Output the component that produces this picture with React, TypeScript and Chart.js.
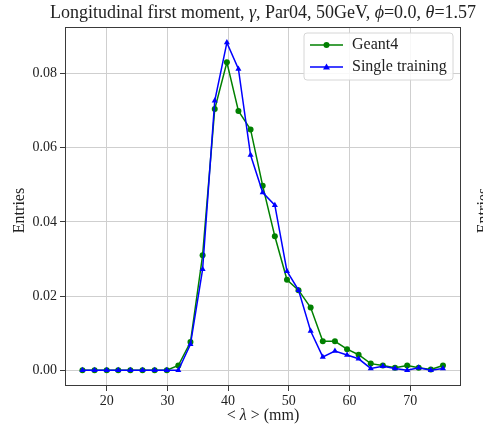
import React, { useEffect, useRef } from "react";
import { Chart, registerables } from "chart.js";

Chart.register(...registerables);

// title parts: [text, italic]
const titleParts: [string, boolean][] = [
  ["Longitudinal first moment, ", false],
  ["\u03b3", true],
  [", Par04, 50GeV, ", false],
  ["\u03d5", true],
  ["=0.0, ", false],
  ["\u03b8", true],
  ["=1.57", false],
];
const xLabelParts: [string, boolean][] = [
  ["< ", false],
  ["\u03bb", true],
  [" > (mm)", false],
];
const yLabel = "Entries";

const xValues = [16.0, 18.0, 20.0, 21.9, 23.9, 25.9, 27.9, 29.9, 31.8, 33.8, 35.8, 37.8, 39.8, 41.7, 43.7, 45.7, 47.7, 49.7, 51.6, 53.6, 55.6, 57.6, 59.6, 61.5, 63.5, 65.5, 67.5, 69.5, 71.4, 73.4, 75.4];
const geant4 = [0, 0, 0, 0, 0, 0, 0, 0, 0.0013, 0.0076, 0.031, 0.0704, 0.083, 0.0699, 0.0649, 0.0497, 0.0361, 0.0244, 0.0216, 0.0169, 0.0078, 0.0078, 0.0057, 0.0042, 0.0018, 0.0013, 0.0007, 0.0013, 0.0007, 0.0002, 0.0013];
const singleTraining = [0, 0, 0, 0, 0, 0, 0, 0, 0, 0.007, 0.0272, 0.0726, 0.0883, 0.0812, 0.058, 0.0479, 0.0445, 0.0267, 0.0216, 0.0106, 0.0036, 0.0052, 0.0041, 0.0031, 0.0005, 0.0011, 0.0005, 0, 0.0007, 0, 0.0005];
const xTicks = [20, 30, 40, 50, 60, 70];
const yTicks = [0, 0.02, 0.04, 0.06, 0.08];
const seriesNames = ["Geant4", "Single training"];

const FONT = "'Liberation Serif', 'DejaVu Serif', serif";

function drawRich(ctx: CanvasRenderingContext2D, parts: [string, boolean][], cx: number, cy: number, size: number) {
  const fonts = parts.map(([, it]) => `${it ? "italic " : ""}${size}px ${FONT}`);
  let total = 0;
  const widths = parts.map(([t], i) => {
    ctx.font = fonts[i];
    const w = ctx.measureText(t).width;
    total += w;
    return w;
  });
  let x = cx - total / 2;
  ctx.textAlign = "left";
  ctx.textBaseline = "middle";
  parts.forEach(([t], i) => {
    ctx.font = fonts[i];
    ctx.fillText(t, x, cy);
    x += widths[i];
  });
}

const decorPlugin = {
  id: "decor",
  beforeDatasetsDraw(chart: any) {
    const { ctx, chartArea: a } = chart;
    ctx.save();
    ctx.strokeStyle = "#3a3a3a";
    ctx.lineWidth = 1;
    ctx.strokeRect(a.left + 0.5, a.top + 0.5, a.right - a.left - 1, a.bottom - a.top - 1);
    ctx.restore();
  },
  afterDraw(chart: any) {
    const { ctx, chartArea: a } = chart;
    ctx.save();
    ctx.fillStyle = "#222";
    drawRich(ctx, titleParts, (a.left + a.right) / 2, 13, 18);
    drawRich(ctx, xLabelParts, (a.left + a.right) / 2, 416, 16);
    ctx.textAlign = "center";
    ctx.textBaseline = "middle";
    ctx.font = `16px ${FONT}`;
    ctx.save();
    ctx.translate(20, (a.top + a.bottom) / 2 + 4);
    ctx.rotate(-Math.PI / 2);
    ctx.fillText(yLabel, 0, 0);
    ctx.restore();
    ctx.save();
    ctx.translate(484, (a.top + a.bottom) / 2 + 4);
    ctx.rotate(-Math.PI / 2);
    ctx.fillText(yLabel, 0, 0);
    ctx.restore();

    // legend
    const bx = 304, by = 33, bw = 149, bh = 47;
    ctx.beginPath();
    const r = 3;
    ctx.moveTo(bx + r, by);
    ctx.lineTo(bx + bw - r, by);
    ctx.quadraticCurveTo(bx + bw, by, bx + bw, by + r);
    ctx.lineTo(bx + bw, by + bh - r);
    ctx.quadraticCurveTo(bx + bw, by + bh, bx + bw - r, by + bh);
    ctx.lineTo(bx + r, by + bh);
    ctx.quadraticCurveTo(bx, by + bh, bx, by + bh - r);
    ctx.lineTo(bx, by + r);
    ctx.quadraticCurveTo(bx, by, bx + r, by);
    ctx.closePath();
    ctx.fillStyle = "rgba(255,255,255,0.85)";
    ctx.fill();
    ctx.strokeStyle = "#d6d6d6";
    ctx.lineWidth = 1;
    ctx.stroke();

    const rows = [
      { y: 45, color: "#008000", shape: "circle", label: seriesNames[0] },
      { y: 67, color: "#0000ff", shape: "triangle", label: seriesNames[1] },
    ];
    rows.forEach((row) => {
      ctx.strokeStyle = row.color;
      ctx.lineWidth = 1.5;
      ctx.beginPath();
      ctx.moveTo(310, row.y);
      ctx.lineTo(343, row.y);
      ctx.stroke();
      ctx.fillStyle = row.color;
      ctx.beginPath();
      if (row.shape === "circle") {
        ctx.arc(326.5, row.y, 3, 0, Math.PI * 2);
      } else {
        ctx.moveTo(326.5, row.y - 3.5);
        ctx.lineTo(330, row.y + 2.5);
        ctx.lineTo(323, row.y + 2.5);
        ctx.closePath();
      }
      ctx.fill();
      ctx.fillStyle = "#222";
      ctx.textAlign = "left";
      ctx.textBaseline = "middle";
      ctx.font = `16px ${FONT}`;
      ctx.fillText(row.label, 352, row.y);
    });
    ctx.restore();
  },
};

export default function App() {
  const ref = useRef<HTMLCanvasElement>(null);
  useEffect(() => {
    document.body.style.margin = "0";
    const mk = (vals: number[]) => xValues.map((x, i) => ({ x, y: vals[i] }));
    const chart = new Chart(ref.current!, {
      type: "line",
      data: {
        datasets: [
          {
            label: seriesNames[0],
            data: mk(geant4),
            borderColor: "#008000",
            backgroundColor: "#008000",
            borderWidth: 1.5,
            pointStyle: "circle",
            pointRadius: 3,
            pointBorderWidth: 0,
            order: 1,
          },
          {
            label: seriesNames[1],
            data: mk(singleTraining),
            borderColor: "#0000ff",
            backgroundColor: "#0000ff",
            borderWidth: 1.5,
            pointStyle: "triangle",
            pointRadius: 3.5,
            pointBorderWidth: 0,
            order: 0,
          },
        ],
      },
      plugins: [decorPlugin],
      options: {
        animation: false,
        responsive: false,
        maintainAspectRatio: false,
        layout: { padding: { top: 27, right: 22, left: 0, bottom: 0 } },
        plugins: { legend: { display: false }, title: { display: false }, tooltip: { enabled: false } },
        scales: {
          x: {
            type: "linear",
            min: 13.13,
            max: 78.37,
            afterBuildTicks: (s: any) => {
              s.ticks = xTicks.map((v) => ({ value: v }));
            },
            afterFit: (s: any) => {
              s.height = 39;
            },
            ticks: {
              font: { family: FONT, size: 14 },
              color: "#222",
              padding: 2,
              maxRotation: 0,
              callback: (v: any) => String(v),
            },
            grid: { color: "#cfcfcf", lineWidth: 1, tickLength: 5, tickColor: "#3a3a3a" },
            border: { display: false },
          },
          y: {
            type: "linear",
            min: -0.00423,
            max: 0.0925,
            afterBuildTicks: (s: any) => {
              s.ticks = yTicks.map((v) => ({ value: v }));
            },
            afterFit: (s: any) => {
              s.width = 65;
            },
            ticks: {
              font: { family: FONT, size: 14 },
              color: "#222",
              padding: 3,
              callback: (v: any) => Number(v).toFixed(2),
            },
            grid: { color: "#cfcfcf", lineWidth: 1, tickLength: 5, tickColor: "#3a3a3a" },
            border: { display: false },
          },
        },
      },
    } as any);
    return () => chart.destroy();
  }, []);
  return (
    <div style={{ position: "fixed", left: 0, top: 0, width: 483, height: 425, background: "#fff" }}>
      <canvas ref={ref} width={483} height={425} style={{ width: 483, height: 425 }} />
    </div>
  );
}
